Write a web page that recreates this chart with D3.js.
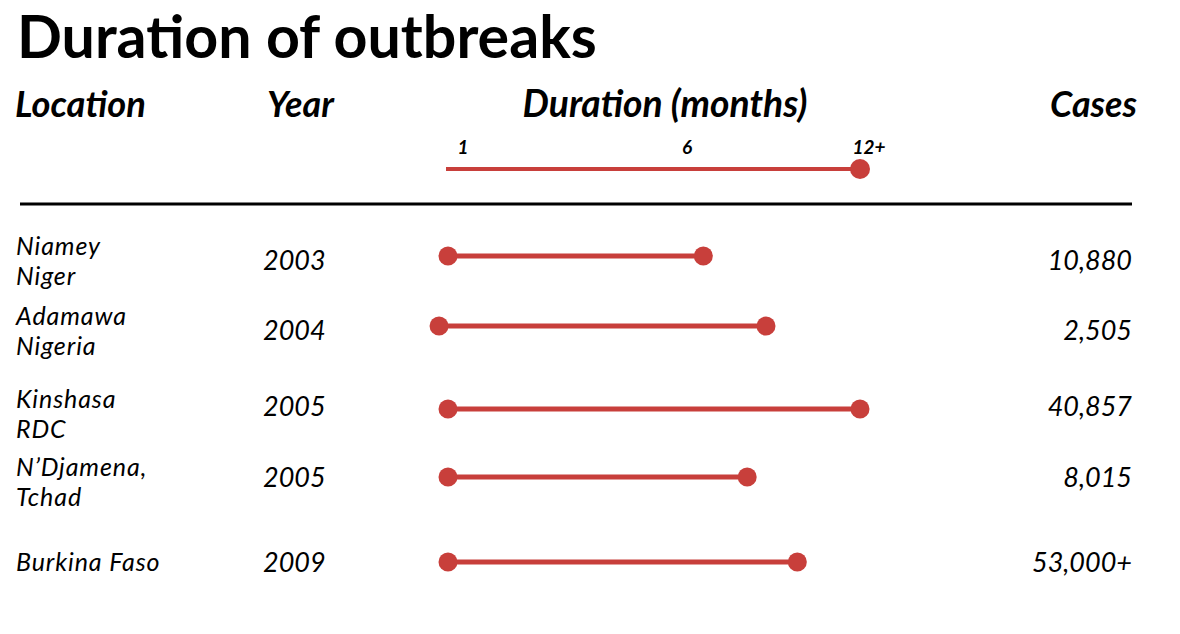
<!DOCTYPE html>
<html>
<head>
<meta charset="utf-8">
<script src="https://cdn.jsdelivr.net/npm/d3@7"></script>
<style>
  body { margin: 0; background: #fff; }
  svg text { font-family: Lato, "Open Sans", sans-serif; fill: #000; }
</style>
</head>
<body>
<svg></svg>
<script>
const places = [['Niamey', 'Niger'], ['Adamawa', 'Nigeria'], ['Kinshasa', 'RDC'], ['N\u2019Djamena,', 'Tchad'], ['Burkina Faso']];
const years = ['2003', '2004', '2005', '2005', '2009'];
const startMonth = [1, 0.8, 1, 1, 1];
const endMonth = [7, 9, 12, 8.4, 10];
const cases = ['10,880', '2,505', '40,857', '8,015', '53,000+'];
const tickValues = [1, 6, 12];
const tickLabels = ['1', '6', '12+'];

const svgWidth = 1180;
const svgHeight = 634;
const red = '#c83f3b';

// row centres, rows are not evenly spaced in the original
const rowY = [256, 326, 409, 477, 562];

const x = d3.scaleLinear()
    .domain([1, 6, 12])
    .range([448, 672, 860]);

const svg = d3.select('svg')
    .attr('width', svgWidth)
    .attr('height', svgHeight);

// fit a text element to a target width by adjusting its font size
function fit(sel, w) {
    sel.each(function () {
        const fs = parseFloat(d3.select(this).attr('font-size'));
        const len = this.getComputedTextLength();
        d3.select(this).attr('font-size', fs * w / len);
    });
}

svg.append('text')
    .attr('x', 17)
    .attr('y', 58)
    .attr('font-size', 54)
    .attr('font-weight', 'bold')
    .text('Duration of outbreaks')
    .call(fit, 580);

const head = svg.append('g')
    .attr('font-style', 'italic')
    .attr('font-weight', 'bold');

head.append('text').attr('x', 15).attr('y', 117).attr('font-size', 30)
    .text('Location').call(fit, 131);
head.append('text').attr('x', 267).attr('y', 117).attr('font-size', 30)
    .text('Year').call(fit, 67);
head.append('text').attr('x', 665).attr('y', 117).attr('font-size', 30)
    .attr('text-anchor', 'middle')
    .text('Duration (months)').call(fit, 285);
head.append('text').attr('x', 1137).attr('y', 117).attr('font-size', 30)
    .attr('text-anchor', 'end')
    .text('Cases').call(fit, 87);

// scale legend
head.selectAll('.tick')
    .data(tickValues)
    .enter()
    .append('text')
    .attr('class', 'tick')
    .attr('x', (d, i) => x(d) + (i === 2 ? 9 : 15))
    .attr('y', 154)
    .attr('font-size', 19)
    .attr('text-anchor', 'middle')
    .text((d, i) => tickLabels[i]);

svg.append('line')
    .attr('x1', x(1) - 2)
    .attr('x2', x(12))
    .attr('y1', 169)
    .attr('y2', 169)
    .attr('stroke', red)
    .attr('stroke-width', 4);

svg.append('circle')
    .attr('cx', x(12))
    .attr('cy', 169)
    .attr('r', 10)
    .attr('fill', red);

svg.append('line')
    .attr('x1', 20)
    .attr('x2', 1132)
    .attr('y1', 204)
    .attr('y2', 204)
    .attr('stroke', '#000')
    .attr('stroke-width', 3);

const rows = svg.selectAll('.row')
    .data(years)
    .enter()
    .append('g')
    .attr('class', 'row')
    .attr('transform', (d, i) => `translate(0, ${rowY[i]})`);

rows.append('text')
    .attr('x', 16)
    .attr('y', (d, i) => places[i].length > 1 ? -1 : 9)
    .attr('font-size', 25)
    .attr('letter-spacing', 0.9)
    .attr('font-style', 'italic')
    .selectAll('tspan')
    .data((d, i) => places[i])
    .enter()
    .append('tspan')
    .attr('x', 16)
    .attr('dy', (d, j) => j ? 30 : 0)
    .text(d => d);

rows.append('text')
    .attr('x', 263)
    .attr('y', (d, i) => i < 2 ? 14 : (i === 2 ? 7 : 10))
    .attr('font-size', 27)
    .attr('font-style', 'italic')
    .text(d => d);

rows.append('text')
    .attr('x', 1132)
    .attr('y', (d, i) => i < 2 ? 14 : (i === 2 ? 7 : 10))
    .attr('font-size', 27)
    .attr('font-style', 'italic')
    .attr('text-anchor', 'end')
    .text((d, i) => cases[i]);

rows.append('line')
    .attr('x1', (d, i) => x(startMonth[i]))
    .attr('x2', (d, i) => x(endMonth[i]))
    .attr('stroke', red)
    .attr('stroke-width', 5);

rows.append('circle')
    .attr('cx', (d, i) => x(startMonth[i]))
    .attr('r', 9.5)
    .attr('fill', red);

rows.append('circle')
    .attr('cx', (d, i) => x(endMonth[i]))
    .attr('r', 9.5)
    .attr('fill', red);
</script>
</body>
</html>
